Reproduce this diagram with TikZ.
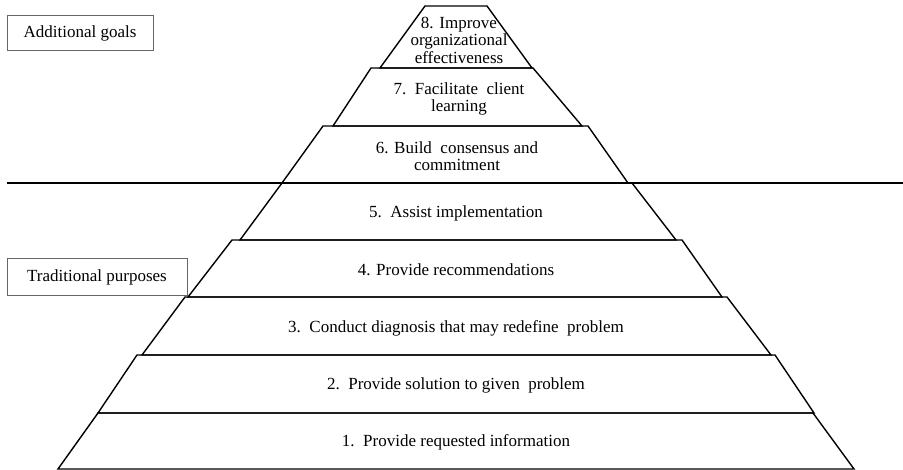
\documentclass[tikz,border=0pt]{standalone}
\usepackage{fontspec}
\setmainfont{Liberation Serif}

\begin{document}
\begin{tikzpicture}[x=1pt,y=-1pt,
    layer/.style={draw=black,line width=1.4pt,line join=miter},
    lbl/.style={font=\fontsize{17}{17.5}\selectfont,align=center,inner sep=0pt},
    tag/.style={draw=black!60,line width=1pt,inner sep=0pt,font=\fontsize{17}{17.5}\selectfont}]
  \useasboundingbox (0,0) rectangle (903,470);
  \foreach \n/\ya/\yb/\ta/\tb/\ba/\bb in {8/6/68/425/487/380/532,
                                          7/68/126/371/533/333/582,
                                          6/126/183/323/588/282/628,
                                          5/183/240/282/632/240/676,
                                          4/240/297/232/682/188/722,
                                          3/297/355/185/727/142/771,
                                          2/355/413/137/775/98/814,
                                          1/413/469/98/813/58/854} {
      \draw[layer] (\ta,\ya) -- (\tb,\ya) -- (\bb,\yb) -- (\ba,\yb) -- cycle;
    }
  \foreach \n/\x/\y/\txt in {8/459/40/{8. Improve\\organizational\\effectiveness},
                             7/459/99/{7.\ \ Facilitate\ \ client\\learning},
                             6/457/156/{6. Build\ \ consensus and\\commitment},
                             5/456/213/{5.\ \ Assist implementation},
                             4/456/270/{4. Provide recommendations},
                             3/456/328/{3.\ \ Conduct diagnosis that may redefine\ \ problem},
                             2/456/385/{2.\ \ Provide solution to given\ \ problem},
                             1/456/442/{1.\ \ Provide requested information}} {
      \node[lbl] (lvl\n) at (\x,\y) {\txt};
    }
  \coordinate (divL) at (7,183);
  \coordinate (divR) at (903,183);
  \draw[line width=2pt] (divL) -- (divR);
  \node[tag,minimum width=146pt,minimum height=35pt] (addgoals) at (80,33.5) {Additional goals};
  \node[tag,minimum width=180pt,minimum height=37pt] (tradpurp) at (97,277.5) {Traditional purposes};
\end{tikzpicture}
\end{document}
